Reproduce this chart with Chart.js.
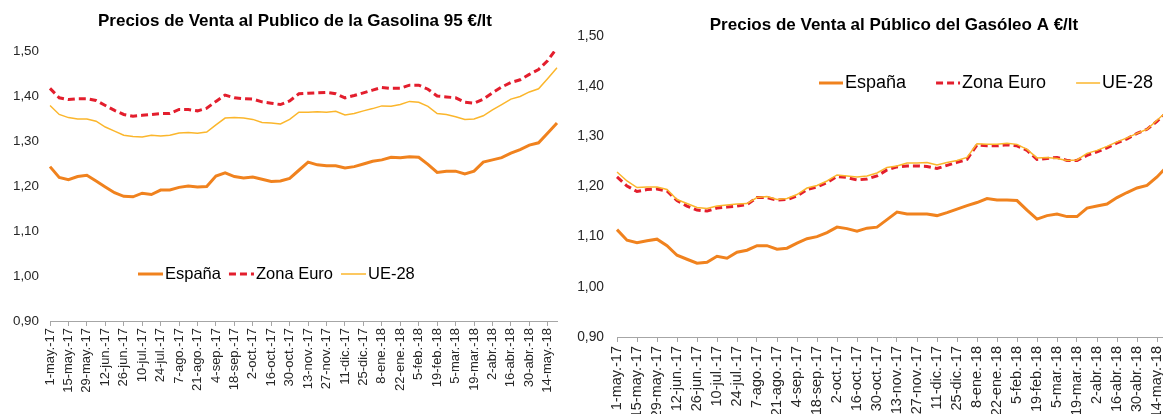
<!DOCTYPE html>
<html>
<head>
<meta charset="utf-8">
<script src="https://cdn.jsdelivr.net/npm/chart.js@4.4.1/dist/chart.umd.min.js"></script>
<style>
  html, body { margin: 0; padding: 0; background: #fff; overflow: hidden; width: 1163px; height: 414px; }
  #gasolina { position: absolute; left: 0; top: 0; }
  #gasoleo { position: absolute; left: 575px; top: 0; }
</style>
</head>
<body>
<canvas id="gasolina" width="575" height="414"></canvas>
<canvas id="gasoleo" width="614" height="430"></canvas>
<script>
// weekly categories (Mondays), every other one is labelled
const weeks = [
  '1-may.-17', '8-may.-17', '15-may.-17', '22-may.-17', '29-may.-17',
  '5-jun.-17', '12-jun.-17', '19-jun.-17', '26-jun.-17',
  '3-jul.-17', '10-jul.-17', '17-jul.-17', '24-jul.-17', '31-jul.-17',
  '7-ago.-17', '14-ago.-17', '21-ago.-17', '28-ago.-17',
  '4-sep.-17', '11-sep.-17', '18-sep.-17', '25-sep.-17',
  '2-oct.-17', '9-oct.-17', '16-oct.-17', '23-oct.-17', '30-oct.-17',
  '6-nov.-17', '13-nov.-17', '20-nov.-17', '27-nov.-17',
  '4-dic.-17', '11-dic.-17', '18-dic.-17', '25-dic.-17',
  '1-ene.-18', '8-ene.-18', '15-ene.-18', '22-ene.-18', '29-ene.-18',
  '5-feb.-18', '12-feb.-18', '19-feb.-18', '26-feb.-18',
  '5-mar.-18', '12-mar.-18', '19-mar.-18', '26-mar.-18',
  '2-abr.-18', '9-abr.-18', '16-abr.-18', '23-abr.-18', '30-abr.-18',
  '7-may.-18', '14-may.-18', '21-may.-18'
];

const seriesNames = ['España', 'Zona Euro', 'UE-28'];

// Gasolina 95
const gasEspana = [1.243, 1.219, 1.214, 1.221, 1.224, 1.211, 1.198, 1.185, 1.177, 1.176,
  1.184, 1.181, 1.191, 1.191, 1.197, 1.200, 1.198, 1.199, 1.222, 1.229,
  1.221, 1.218, 1.220, 1.215, 1.210, 1.211, 1.217, 1.235, 1.253, 1.247,
  1.245, 1.245, 1.240, 1.243, 1.249, 1.255, 1.258, 1.264, 1.263, 1.265,
  1.264, 1.248, 1.230, 1.233, 1.233, 1.227, 1.233, 1.253, 1.258, 1.263,
  1.273, 1.281, 1.291, 1.296, 1.318, 1.340];
const gasZonaEuro = [1.417, 1.396, 1.392, 1.394, 1.394, 1.390, 1.379, 1.368, 1.359, 1.355,
  1.357, 1.359, 1.361, 1.361, 1.370, 1.370, 1.367, 1.373, 1.388, 1.402,
  1.396, 1.394, 1.393, 1.387, 1.384, 1.381, 1.389, 1.405, 1.406, 1.407,
  1.408, 1.405, 1.396, 1.401, 1.407, 1.413, 1.419, 1.417, 1.417, 1.424,
  1.424, 1.415, 1.400, 1.398, 1.396, 1.386, 1.384, 1.393, 1.407, 1.420,
  1.430, 1.436, 1.448, 1.459, 1.479, 1.507];
const gasUE28 = [1.379, 1.359, 1.352, 1.349, 1.349, 1.344, 1.331, 1.322, 1.313, 1.310,
  1.309, 1.313, 1.311, 1.313, 1.318, 1.319, 1.317, 1.320, 1.336, 1.351,
  1.352, 1.351, 1.348, 1.341, 1.340, 1.338, 1.348, 1.364, 1.364, 1.365,
  1.364, 1.366, 1.358, 1.361, 1.367, 1.372, 1.378, 1.377, 1.381, 1.388,
  1.386, 1.377, 1.361, 1.359, 1.354, 1.348, 1.349, 1.356, 1.369, 1.381,
  1.393, 1.399, 1.409, 1.416, 1.439, 1.463];

// Gasóleo A
const dieEspana = [1.114, 1.093, 1.088, 1.092, 1.095, 1.082, 1.063, 1.055, 1.047, 1.049,
  1.061, 1.057, 1.069, 1.073, 1.082, 1.082, 1.075, 1.077, 1.087, 1.096,
  1.100, 1.108, 1.119, 1.116, 1.111, 1.117, 1.119, 1.134, 1.149, 1.145,
  1.145, 1.145, 1.142, 1.148, 1.155, 1.162, 1.168, 1.176, 1.173, 1.173,
  1.172, 1.153, 1.135, 1.142, 1.145, 1.140, 1.140, 1.157, 1.161, 1.165,
  1.178, 1.188, 1.197, 1.202, 1.219, 1.240];
const dieZonaEuro = [1.219, 1.201, 1.190, 1.194, 1.195, 1.191, 1.172, 1.161, 1.153, 1.151,
  1.157, 1.159, 1.161, 1.164, 1.178, 1.178, 1.173, 1.174, 1.181, 1.194,
  1.199, 1.208, 1.220, 1.218, 1.213, 1.215, 1.221, 1.233, 1.239, 1.241,
  1.241, 1.240, 1.236, 1.242, 1.248, 1.254, 1.283, 1.281, 1.281, 1.283,
  1.281, 1.272, 1.254, 1.256, 1.258, 1.252, 1.252, 1.262, 1.269, 1.277,
  1.287, 1.295, 1.306, 1.314, 1.330, 1.348];
const dieUE28 = [1.229, 1.211, 1.198, 1.199, 1.199, 1.194, 1.174, 1.166, 1.158, 1.156,
  1.161, 1.163, 1.165, 1.166, 1.178, 1.180, 1.174, 1.176, 1.184, 1.197,
  1.202, 1.211, 1.223, 1.221, 1.219, 1.221, 1.227, 1.238, 1.241, 1.247,
  1.247, 1.248, 1.243, 1.248, 1.252, 1.258, 1.285, 1.284, 1.284, 1.286,
  1.284, 1.274, 1.257, 1.258, 1.256, 1.252, 1.253, 1.266, 1.272, 1.280,
  1.289, 1.297, 1.306, 1.314, 1.332, 1.350];

const FONT = "'Liberation Sans', Arial, sans-serif";
Chart.defaults.font.family = FONT;

const AXIS_GREY = '#a6a6a6';
const TEXT = '#262626';

// draws the title and the in-plot legend where the original has them
const overlay = {
  id: 'overlay',
  afterDraw(chart, args, o) {
    const ctx = chart.ctx;
    ctx.save();
    ctx.fillStyle = '#000';
    ctx.textBaseline = 'middle';
    ctx.textAlign = 'center';
    ctx.font = 'bold ' + o.titleSize + 'px ' + FONT;
    ctx.fillText(o.title, o.titleX, o.titleY);

    ctx.font = o.legendSize + 'px ' + FONT;
    ctx.textAlign = 'left';
    let x = o.legendX;
    const y = o.legendY;
    chart.data.datasets.forEach(ds => {
      ctx.beginPath();
      ctx.setLineDash(ds.borderDash || []);
      ctx.lineWidth = ds.borderWidth;
      ctx.strokeStyle = ds.borderColor;
      ctx.moveTo(x, y);
      ctx.lineTo(x + o.sample, y);
      ctx.stroke();
      ctx.setLineDash([]);
      x += o.sample + 2;
      ctx.fillStyle = '#000';
      ctx.fillText(ds.label, x, y);
      x += ctx.measureText(ds.label).width + o.gap;
    });
    ctx.restore();
  }
};

function makeChart(id, values, o) {
  const datasets = [
    { label: seriesNames[0], data: values[0], borderColor: '#f0821e', borderWidth: 3, order: 2 },
    { label: seriesNames[1], data: values[1], borderColor: '#e31e2d', borderWidth: 3, borderDash: [7, 4], order: 1 },
    { label: seriesNames[2], data: values[2], borderColor: '#fbb62c', borderWidth: 1.5, order: 0 }
  ];
  datasets.forEach(d => { d.pointRadius = 0; d.tension = 0; d.fill = false; });

  return new Chart(document.getElementById(id), {
    type: 'line',
    data: { labels: weeks, datasets: datasets },
    plugins: [overlay],
    options: {
      responsive: false,
      animation: false,
      devicePixelRatio: 1,
      layout: { padding: { top: o.top, right: o.right, left: 0, bottom: 0 } },
      plugins: {
        legend: { display: false },
        tooltip: { enabled: false },
        overlay: o
      },
      scales: {
        x: {
          type: 'category',
          offset: false,
          grid: {
            display: true,
            drawOnChartArea: false,
            drawTicks: true,
            tickLength: 5,
            color: c => (c.index % 2 === 0 ? AXIS_GREY : 'rgba(0,0,0,0)')
          },
          border: { display: true, color: AXIS_GREY, width: 1 },
          ticks: {
            autoSkip: false,
            minRotation: 90,
            maxRotation: 90,
            padding: o.xPad,
            color: TEXT,
            font: { size: o.xFont },
            callback: (v, i) => (i % 2 === 0 ? weeks[i] : '')
          },
          afterFit: s => { s.height = o.xHeight; }
        },
        y: {
          min: 0.9,
          max: 1.5,
          grid: { display: false, drawTicks: false },
          border: { display: false },
          ticks: {
            stepSize: 0.1,
            padding: o.yPad,
            color: TEXT,
            font: { size: o.yFont },
            callback: v => v.toFixed(2).replace('.', ',')
          },
          afterFit: s => { s.width = o.yWidth; }
        }
      }
    }
  });
}

makeChart('gasolina', [gasEspana, gasZonaEuro, gasUE28], {
  title: 'Precios de Venta al Publico de la Gasolina 95 €/lt',
  titleSize: 17, titleX: 295, titleY: 21,
  legendSize: 16.5, legendX: 138, legendY: 274, sample: 25, gap: 8,
  top: 51, right: 18, xHeight: 93, yWidth: 50,
  xPad: 2, yPad: 11, xFont: 13, yFont: 13.4
});

makeChart('gasoleo', [dieEspana, dieZonaEuro, dieUE28], {
  title: 'Precios de Venta al Público del Gasóleo A €/lt',
  titleSize: 17, titleX: 319, titleY: 25.5,
  legendSize: 18, legendX: 244, legendY: 83, sample: 24, gap: 30,
  top: 36, right: 22, xHeight: 93, yWidth: 42,
  xPad: 4, yPad: 13, xFont: 14.5, yFont: 13.8
});
</script>
</body>
</html>
